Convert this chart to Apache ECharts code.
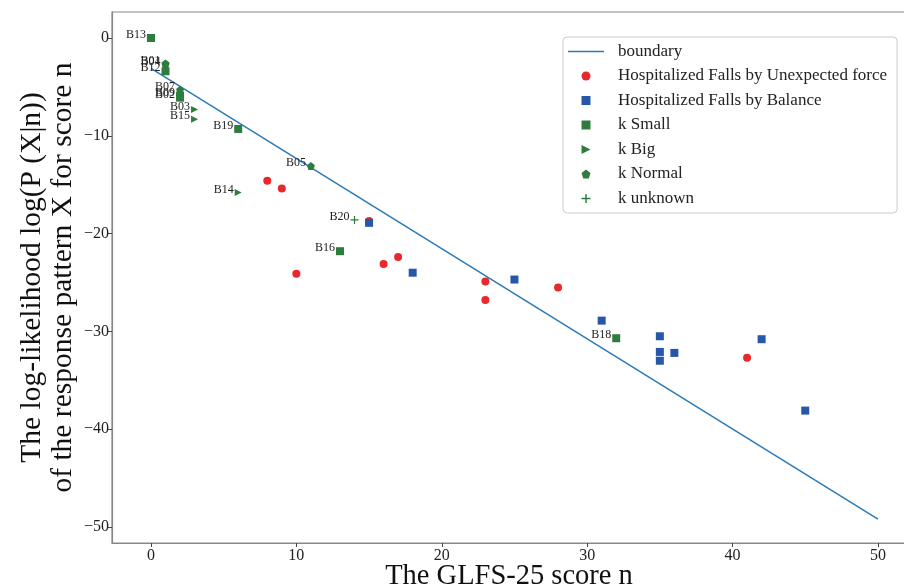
<!DOCTYPE html>
<html><head><meta charset="utf-8">
<script src="https://cdn.jsdelivr.net/npm/echarts@6/dist/echarts.min.js"></script>
<style>html,body{margin:0;padding:0;background:#fff}#c{width:904px;height:587px}</style>
</head><body><div id="c"></div>
<script>
const xTicks = [0, 10, 20, 30, 40, 50];
const yTicks = [-50, -40, -30, -20, -10, 0];
const boundary = [[0, -3.1], [50, -49.2]];
const unexpectedForce = [[8, -14.6], [9, -15.4], [10, -24.1], [15, -18.7], [16, -23.1], [17, -22.4], [23, -24.9], [23, -26.8], [28, -25.5], [41, -32.7]];
const balance = [[0, 0], [15, -18.9], [18, -24.0], [25, -24.7], [31, -28.9], [35, -30.5], [35, -32.1], [35, -33.0], [36, -32.2], [42, -30.8], [45, -38.1]];
const kSmallNames = ['B13', 'B12', 'B09', 'B02', 'B19', 'B16', 'B18'];
const kSmall = [[0, 0], [1, -3.4], [2, -5.9], [2, -6.1], [6, -9.3], [13, -21.8], [32, -30.7]];
const kBigNames = ['B03', 'B15', 'B14'];
const kBig = [[3, -7.3], [3, -8.3], [6, -15.8]];
const kNormalNames = ['B01', 'B04', 'B07', 'B05'];
const kNormal = [[1, -2.6], [1, -2.7], [2, -5.3], [11, -13.1]];
const kUnknownNames = ['B20'];
const kUnknown = [[14, -18.6]];

const SERIF = '"Liberation Serif","DejaVu Serif",serif';
const GREEN = '#2e7d3e';
const square = 'path://M0,0 H10 V10 H0 Z';
const lineIcon = 'path://M0,0 H36 V1.5 H0 Z';
const triRight = 'path://M0,0 L10,5 L0,10 Z';
const pentagon = 'path://M5,0 L10,3.8 L8.1,10 L1.9,10 L0,3.8 Z';
const plus = 'path://M4.2,0 H5.8 V4.2 H10 V5.8 H5.8 V10 H4.2 V5.8 H0 V4.2 H4.2 Z';

function named(names, pts) { return pts.map((p, i) => ({ name: names[i], value: p })); }
const ptLabel = {
  show: true, position: 'left', distance: 1, offset: [0, -3],
  formatter: p => p.name, fontFamily: SERIF, fontSize: 12, color: '#222'
};
const fmt = v => String(v).replace('-', '\u2212');

const chart = echarts.init(document.getElementById('c'));
chart.setOption({
  animation: false,
  backgroundColor: '#fff',
  grid: { left: 112, top: 12, right: -2, bottom: 44, outerBoundsMode: 'none', containLabel: false, show: true, borderColor: '#888', borderWidth: 1.2, backgroundColor: 'transparent' },
  xAxis: {
    type: 'value', min: -2.68, max: 51.93,
    name: 'The GLFS-25 score n', nameLocation: 'middle', nameGap: 19, nameMoveOverlap: false,
    nameTextStyle: { fontFamily: SERIF, fontSize: 28.5, color: '#111' },
    axisLine: { show: true, onZero: false, lineStyle: { color: '#888', width: 1.2 } },
    axisTick: { show: true, length: 4, inside: false, customValues: xTicks, lineStyle: { color: '#444' } },
    axisLabel: { customValues: xTicks, formatter: fmt, fontFamily: SERIF, fontSize: 16, color: '#222', margin: 5 },
    splitLine: { show: false }
  },
  yAxis: {
    type: 'value', min: -51.64, max: 2.66,
    name: 'The log-likelihood log(P (X|n))\nof the response pattern X for score n',
    nameLocation: 'middle', nameGap: 33, nameRotate: 90, nameMoveOverlap: false,
    nameTextStyle: { fontFamily: SERIF, fontSize: 29.5, color: '#111', lineHeight: 31, align: 'center' },
    axisLine: { show: true, onZero: false, lineStyle: { color: '#888', width: 1.2 } },
    axisTick: { show: true, length: 4, inside: false, customValues: yTicks, lineStyle: { color: '#444' } },
    axisLabel: { customValues: yTicks, formatter: fmt, fontFamily: SERIF, fontSize: 16, color: '#222', margin: 3 },
    splitLine: { show: false }
  },
  legend: {
    orient: 'vertical', left: 563, top: 37,
    padding: [6, 10, 6, 5], itemWidth: 36, itemHeight: 9, itemGap: 7.5,
    borderColor: '#ccc', borderWidth: 1, borderRadius: 4, backgroundColor: '#fff',
    textStyle: { fontFamily: SERIF, fontSize: 17, color: '#222', padding: [0, 0, 0, 9] },
    data: [
      { name: 'boundary', icon: lineIcon },
      { name: 'Hospitalized Falls by Unexpected force', icon: 'circle' },
      { name: 'Hospitalized Falls by Balance', icon: square },
      { name: 'k Small', icon: square },
      { name: 'k Big', icon: triRight },
      { name: 'k Normal', icon: pentagon },
      { name: 'k unknown', icon: plus }
    ]
  },
  series: [
    { name: 'boundary', type: 'line', data: boundary, symbol: 'none', lineStyle: { color: '#2a7ab8', width: 1.5 }, itemStyle: { color: '#2a7ab8' }, z: 2 },
    { name: 'Hospitalized Falls by Unexpected force', type: 'scatter', data: unexpectedForce, symbol: 'circle', symbolSize: 8, itemStyle: { color: '#e8282b', opacity: 1 }, z: 3 },
    { name: 'Hospitalized Falls by Balance', type: 'scatter', data: balance, symbol: 'rect', symbolSize: 8, itemStyle: { color: '#2757a8', opacity: 1 }, z: 4 },
    { name: 'k Small', type: 'scatter', data: named(kSmallNames, kSmall), symbol: 'rect', symbolSize: 8, itemStyle: { color: GREEN, opacity: 1 }, label: ptLabel, z: 5 },
    { name: 'k Big', type: 'scatter', data: named(kBigNames, kBig), symbol: triRight, symbolSize: 7, itemStyle: { color: GREEN, opacity: 1 }, label: ptLabel, z: 5 },
    { name: 'k Normal', type: 'scatter', data: named(kNormalNames, kNormal), symbol: pentagon, symbolSize: 8, itemStyle: { color: GREEN, opacity: 1 }, label: ptLabel, z: 5 },
    { name: 'k unknown', type: 'scatter', data: named(kUnknownNames, kUnknown), symbol: plus, symbolSize: 8, itemStyle: { color: GREEN, opacity: 1 }, label: ptLabel, z: 5 }
  ]
});
</script></body></html>
